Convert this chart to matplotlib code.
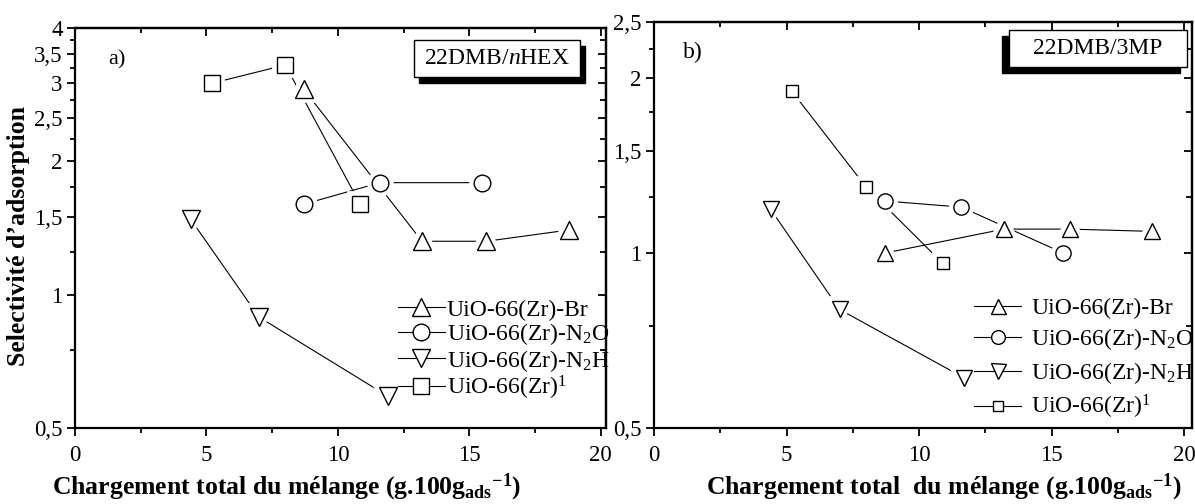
import matplotlib
matplotlib.use("Agg")
import matplotlib.pyplot as plt
from matplotlib.lines import Line2D
from matplotlib.patches import Rectangle
from matplotlib.ticker import FixedLocator, FixedFormatter, NullFormatter

plt.rcParams["font.family"] = "Liberation Serif"
plt.rcParams["mathtext.fontset"] = "custom"
plt.rcParams["mathtext.rm"] = "Liberation Serif"
plt.rcParams["mathtext.it"] = "Liberation Serif:italic"
plt.rcParams["mathtext.bf"] = "Liberation Serif:bold"

# series, in legend order: Br, N2O, N2H, parent
labels = ["UiO-66(Zr)-Br", "UiO-66(Zr)-N$_2$O", "UiO-66(Zr)-N$_2$H", "UiO-66(Zr)$^1$"]
markers = ["^", "o", "v", "s"]

# a) 22DMB/nHEX
a_br_x = [8.7, 13.2, 15.65, 18.8]
a_br_y = [2.91, 1.32, 1.32, 1.40]
a_no_x = [8.7, 11.6, 15.5]
a_no_y = [1.60, 1.79, 1.79]
a_nh_x = [4.4, 7.0, 11.9]
a_nh_y = [1.48, 0.89, 0.59]
a_zr_x = [5.2, 8.0, 10.85]
a_zr_y = [3.0, 3.30, 1.60]

# b) 22DMB/3MP
b_br_x = [8.7, 13.2, 15.7, 18.8]
b_br_y = [1.0, 1.10, 1.10, 1.09]
b_no_x = [8.7, 11.6, 15.45]
b_no_y = [1.23, 1.20, 1.0]
b_nh_x = [4.4, 7.0, 11.7]
b_nh_y = [1.19, 0.80, 0.61]
b_zr_x = [5.2, 8.0, 10.9]
b_zr_y = [1.90, 1.30, 0.96]

x_ticks = [0, 5, 10, 15, 20]
x_minor = [2.5, 7.5, 12.5, 17.5]

a_yticks = [0.5, 1, 1.5, 2, 2.5, 3, 3.5, 4]
a_ylabels = ["0,5", "1", "1,5", "2", "2,5", "3", "3,5", "4"]
a_yminor = [0.75, 1.25, 1.75, 2.25, 2.75, 3.25, 3.75]

b_yticks = [0.5, 1, 1.5, 2, 2.5]
b_ylabels = ["0,5", "1", "1,5", "2", "2,5"]
b_yminor = [0.75, 1.25, 1.75, 2.25]

xlabel_a = r"Chargement total du mélange (g.100g$_{\mathbf{ads}}{}^{\mathbf{-1}}$)"
xlabel_b = r"Chargement total  du mélange (g.100g$_{\mathbf{ads}}{}^{\mathbf{-1}}$)"
ylabel = "Selectivité d’adsorption"


def setup_axes(ax, xmax, yticks, ylabels, yminor):
    ax.set_yscale("log")
    ax.set_xlim(0, xmax)
    ax.set_ylim(yticks[0], yticks[-1])
    ax.xaxis.set_major_locator(FixedLocator(x_ticks))
    ax.xaxis.set_minor_locator(FixedLocator(x_minor))
    ax.yaxis.set_major_locator(FixedLocator(yticks))
    ax.yaxis.set_major_formatter(FixedFormatter(ylabels))
    ax.yaxis.set_minor_locator(FixedLocator(yminor))
    ax.yaxis.set_minor_formatter(NullFormatter())
    ax.tick_params(which="both", direction="out", top=False, right=False,
                   labelsize=16.5, width=1.3)
    ax.tick_params(which="major", length=6, pad=3)
    ax.tick_params(which="minor", length=3.5)
    ax.tick_params(axis="x", pad=6)
    for sp in ax.spines.values():
        sp.set_linewidth(1.6)

    top = ax.secondary_xaxis("top")
    top.set_xticks(x_ticks)
    top.xaxis.set_minor_locator(FixedLocator(x_minor))
    top.tick_params(which="both", direction="in", labeltop=False, width=1.3)
    top.tick_params(which="major", length=6)
    top.tick_params(which="minor", length=3.5)
    top.spines["top"].set_linewidth(1.6)

    right = ax.secondary_yaxis("right")
    right.yaxis.set_major_locator(FixedLocator(yticks))
    right.yaxis.set_minor_locator(FixedLocator(yminor))
    right.yaxis.set_minor_formatter(NullFormatter())
    right.tick_params(which="both", direction="in", labelright=False, width=1.3)
    right.tick_params(which="major", length=6)
    right.tick_params(which="minor", length=4)
    right.spines["right"].set_linewidth(1.6)


def draw_series(ax, xs, ys, sizes):
    for x, y, m, ms in zip(xs, ys, markers, sizes):
        ax.plot(x, y, color="black", lw=0.8, zorder=2)
        ax.plot(x, y, ls="none", marker=m, ms=ms, mfc="white", mec="white",
                mew=7, zorder=3)
        ax.plot(x, y, ls="none", marker=m, ms=ms, mfc="white", mec="black",
                mew=1.0, zorder=4)


def text_box(ax, x0, y0, w, h, dx, dy, s):
    ax.add_patch(Rectangle((x0 + dx, y0 + dy), w, h, transform=ax.transAxes,
                           fc="black", ec="black", zorder=6, clip_on=False))
    ax.add_patch(Rectangle((x0, y0), w, h, transform=ax.transAxes,
                           fc="white", ec="black", lw=1.0, zorder=7, clip_on=False))
    ax.text(x0 + w / 2, y0 + h / 2, s, transform=ax.transAxes, ha="center",
            va="center", fontsize=17, zorder=8)


def legend(ax, sizes, anchor, spacing, textpad, mscale):
    handles = [Line2D([], [], color="black", lw=0.8, marker=m, ms=ms,
                      mfc="white", mec="black", mew=1.0)
               for m, ms in zip(markers, sizes)]
    ax.legend(handles, labels, loc="upper left", bbox_to_anchor=anchor,
              frameon=False, fontsize=17, borderpad=0, borderaxespad=0,
              handlelength=2.0, handletextpad=textpad, labelspacing=spacing,
              markerscale=mscale)


fig = plt.figure(figsize=(11.95, 5.04), dpi=100)
W, H = 1195.0, 504.0

ax1 = fig.add_axes([75 / W, 76 / H, (606 - 75) / W, 400 / H])
setup_axes(ax1, 20.2, a_yticks, a_ylabels, a_yminor)
sizes_a = [13, 12, 13, 11]
draw_series(ax1, [a_br_x, a_no_x, a_nh_x, a_zr_x],
            [a_br_y, a_no_y, a_nh_y, a_zr_y], sizes_a)
ax1.text(0.062, 0.92, "a)", transform=ax1.transAxes, fontsize=16,
         ha="left", va="center")
text_box(ax1, 0.638, 0.878, 0.313, 0.092, 0.0094, -0.016,
         "22DMB/$\\mathit{n}$HEX")
legend(ax1, sizes_a, (0.608, 0.322), 0.02, 0.08, 1.0)

ax2 = fig.add_axes([654 / W, 76 / H, (1192 - 654) / W, 406 / H])
setup_axes(ax2, 20.3, b_yticks, b_ylabels, b_yminor)
sizes_b = [12, 11, 12, 8.5]
draw_series(ax2, [b_br_x, b_no_x, b_nh_x, b_zr_x],
            [b_br_y, b_no_y, b_nh_y, b_zr_y], sizes_b)
ax2.text(0.053, 0.924, "b)", transform=ax2.transAxes, fontsize=17,
         ha="left", va="center")
text_box(ax2, 0.66, 0.889, 0.331, 0.091, -0.013, -0.0148, "22DMB/3MP")
legend(ax2, sizes_b, (0.595, 0.322), 0.32, 0.42, 0.9)

fig.text(286 / W, 1 - 494 / H, xlabel_a, fontsize=18.5, fontweight="bold",
         ha="center", va="baseline")
fig.text(944 / W, 1 - 494 / H, xlabel_b, fontsize=18.5, fontweight="bold",
         ha="center", va="baseline")
fig.text(19 / W, 1 - 236 / H, ylabel, fontsize=18.5, fontweight="bold",
         rotation=90, ha="center", va="center")

fig.savefig("out.png", dpi=100)
